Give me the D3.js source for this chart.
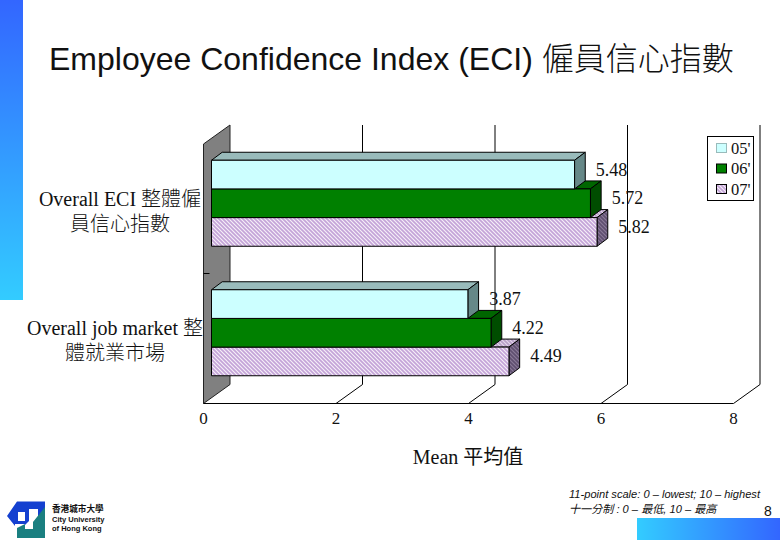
<!DOCTYPE html>
<html><head><meta charset="utf-8">
<script src="https://cdn.jsdelivr.net/npm/d3@7"></script>
<style>html,body{margin:0;padding:0;background:#fff}svg{display:block}</style>
</head><body><svg id="c" width="780" height="540"></svg>
<script>
const categories = [["Overall ECI 整體僱","員信心指數"],["Overall job market 整","體就業市場"]];
const seriesNames = ["05'","06'","07'"];
const values05 = [5.48,3.87];
const values06 = [5.72,4.22];
const values07 = [5.82,4.49];
const xTicks = [0,2,4,6,8];
const allSeries = [values05,values06,values07];

const serif = "'Liberation Serif','Noto Sans CJK TC',serif";
const sans = "'Liberation Sans','Noto Sans CJK TC',sans-serif";
const svg = d3.select("#c");
const defs = svg.append("defs");

function grad(id,x2,y2,stops){
  const g=defs.append("linearGradient").attr("id",id).attr("x1",0).attr("y1",0).attr("x2",x2).attr("y2",y2);
  stops.forEach((c,i)=>g.append("stop").attr("offset",i/(stops.length-1)).attr("stop-color",c));
}
grad("gl",0,1,["#3366ff","#33ccff"]);
grad("gb",1,0,["#33ccff","#3366ff"]);
function hatch(id,bg,fg){
  const p=defs.append("pattern").attr("id",id).attr("width",4).attr("height",4)
    .attr("patternUnits","userSpaceOnUse");
  p.append("rect").attr("width",4).attr("height",4).attr("fill",bg);
  p.append("path").attr("d","M-1,3L1,5M0,0L4,4M3,-1L5,1").attr("stroke",fg).attr("stroke-width",1.7);
}
hatch("hFront","#f6f0f8","#c4a4d8");
hatch("hTop","#e4d8ec","#b8a0c8");
hatch("hSide","#8a7a98","#5f4f70");

svg.append("rect").attr("x",0).attr("y",0).attr("width",23).attr("height",300).attr("fill","url(#gl)");
svg.append("rect").attr("x",637).attr("y",518).attr("width",143).attr("height",22).attr("fill","url(#gb)");

svg.append("text").attr("x",49).attr("y",70).attr("font-family",sans).attr("font-size",32).attr("font-weight",300).attr("fill","#111")
  .text("Employee Confidence Index (ECI) 僱員信心指數");

// 3D chart frame
const depth = {dx:26.5, dy:-19};
const barDepth = {dx:10.7, dy:-8, sx:8, sy:-5.5};
const x = d3.scaleLinear().domain([0,8]).range([203.5,733.5]);
const y0 = d3.scaleBand().domain(d3.range(categories.length)).range([144,403]);
const y1 = d3.scaleBand().domain(d3.range(seriesNames.length)).range([0,86]);
const g = svg.append("g");
const yBot = 403.5, yTop = 144;

// wall
g.append("path").attr("d",`M${x(0)},${yTop}L${x(0)+depth.dx},${yTop+depth.dy}V${yBot+depth.dy}L${x(0)},${yBot}Z`)
 .attr("fill","#808080").attr("stroke","#222").attr("stroke-width",1);
// grid
g.selectAll(".grid").data(xTicks.slice(1)).join("path").attr("fill","none").attr("stroke","#000").attr("stroke-width",1)
 .attr("d",d=>`M${x(d)+depth.dx},${yTop+depth.dy}V${yBot+depth.dy}L${x(d)},${yBot}`);
// floor
g.append("line").attr("x1",x(0)).attr("x2",x(8)).attr("y1",yBot).attr("y2",yBot).attr("stroke","#000");
// category tick on wall
g.append("line").attr("x1",x(0)).attr("x2",x(0)+6).attr("y1",y0(1)).attr("y2",y0(1)).attr("stroke","#000");
// bars: lower series drawn first so upper ones overlap
const faces = [
  {front:"#ccffff",top:"#99bbbb",side:"#668888"},
  {front:"#008000",top:"#006600",side:"#004d00"},
  {front:"url(#hFront)",top:"url(#hTop)",side:"url(#hSide)"}
];
for(let s=seriesNames.length-1;s>=0;s--){
  categories.forEach((c,ci)=>{
    const v = allSeries[s][ci];
    const gy = y0(ci)+y0.bandwidth()/2-43+barDepth.sy;
    const yT = gy+y1(s), h = y1.bandwidth();
    const xL = x(0)+barDepth.sx, xR = x(v)+barDepth.sx;
    const f = faces[s], dx=barDepth.dx, dy=barDepth.dy;
    const bar = g.append("g").attr("stroke","#000").attr("stroke-width",1).attr("stroke-linejoin","round");
    bar.append("path").attr("fill",f.top).attr("d",`M${xL},${yT}L${xL+dx},${yT+dy}H${xR+dx}L${xR},${yT}Z`);
    bar.append("path").attr("fill",f.side).attr("d",`M${xR},${yT}L${xR+dx},${yT+dy}V${yT+dy+h}L${xR},${yT+h}Z`);
    bar.append("rect").attr("fill",f.front).attr("x",xL).attr("y",yT).attr("width",xR-xL).attr("height",h);
  });
}
// value labels
allSeries.forEach((vals,s)=>{
  vals.forEach((v,ci)=>{
    const gy = y0(ci)+y0.bandwidth()/2-43+barDepth.sy;
    g.append("text").attr("x",x(v)+barDepth.sx+37).attr("y",gy+y1(s)+y1.bandwidth()/2+1)
      .attr("text-anchor","middle").attr("font-family",serif).attr("font-size",18).attr("fill","#111")
      .text(v.toFixed(2));
  });
});
// x axis labels
g.selectAll(".xl").data(xTicks).join("text").attr("x",d=>x(d)).attr("y",424)
 .attr("text-anchor","middle").attr("font-family",serif).attr("font-size",17).attr("fill","#111").text(d=>d);
g.append("text").attr("x",468).attr("y",464).attr("text-anchor","middle").attr("font-family",serif).attr("font-size",20).attr("fill","#111").text("Mean 平均值");
// category labels
const catCx=[120,115];
categories.forEach((lines,ci)=>{
  lines.forEach((t,li)=>{
    g.append("text").attr("x",catCx[ci]).attr("y",y0(ci)+y0.bandwidth()/2-3+li*25)
     .attr("text-anchor","middle").attr("font-family",serif).attr("font-size",20).attr("font-weight",300).attr("fill","#111").text(t);
  });
});
// legend
const lg = svg.append("g");
lg.append("rect").attr("x",707.5).attr("y",136.5).attr("width",46).attr("height",64).attr("fill","#fff").attr("stroke","#000");
const ly = d3.scalePoint().domain(seriesNames).range([148,189]);
seriesNames.forEach((n,s)=>{
  lg.append("rect").attr("x",716.5).attr("y",ly(n)-4.5).attr("width",10).attr("height",9).attr("fill",faces[s].front).attr("stroke",s===0?"#99bbbb":"#000");
  lg.append("text").attr("x",731).attr("y",ly(n)+5.5).attr("font-family",serif).attr("font-size",16.5).attr("fill","#111").text(n);
});
// footnotes
svg.append("text").attr("x",569).attr("y",498).attr("font-family",sans).attr("font-style","italic").attr("font-size",11.1).attr("fill","#111").text("11-point scale: 0 – lowest; 10 – highest");
svg.append("text").attr("x",569).attr("y",513).attr("font-family",sans).attr("font-style","italic").attr("font-size",11.1).attr("fill","#111").text("十一分制 : 0 – 最低, 10 – 最高");
svg.append("text").attr("x",768).attr("y",516).attr("text-anchor","middle").attr("font-family",sans).attr("font-size",14).attr("fill","#111").text("8");
// logo
const logo = svg.append("g");
logo.append("path").attr("fill","#1440d0").attr("d","M7,516L17,501.5H45V510L38,517V509H29V521L25,525V509H20C15,509 15,516 15,521V526Z");
logo.append("path").attr("fill","#fff").attr("d","M18,512h6v9h-6z");
logo.append("path").attr("fill","#1440d0").attr("d","M15,509h10v3h-7v9h7v3h-10z");
logo.append("path").attr("fill","#1a7f80").attr("d","M17,538V528L25,524V529H33V522L45,507V538Z");
logo.append("text").attr("x",52).attr("y",512).attr("font-family",sans).attr("font-size",8.6).attr("font-weight",700).attr("fill","#111").text("香港城市大學");
logo.append("text").attr("x",52).attr("y",522).attr("font-family",sans).attr("font-size",7.5).attr("font-weight",700).attr("fill","#111").text("City University");
logo.append("text").attr("x",52).attr("y",531).attr("font-family",sans).attr("font-size",7.5).attr("font-weight",700).attr("fill","#111").text("of Hong Kong");
</script></body></html>
